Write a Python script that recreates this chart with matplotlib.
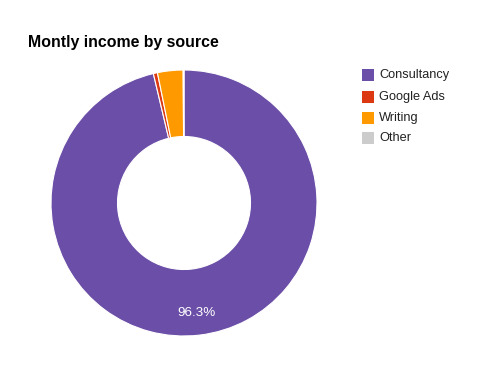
import matplotlib
matplotlib.use("Agg")
import matplotlib.pyplot as plt
from matplotlib.patches import Rectangle

# ── data ──────────────────────────────────────────────────────────────────────

sources = ["Consultancy", "Google Ads", "Writing", "Other"]
shares  = [96.3, 0.5, 3.1, 0.1]
colors  = ["#6a4ea7", "#dc3912", "#ff9900", "#cccccc"]
title   = "Montly income by source"

plt.rcParams["font.family"] = ["Liberation Sans", "DejaVu Sans"]

W, H = 496, 381
fig = plt.figure(figsize=(W / 100, H / 100), dpi=100)

# ── donut ─────────────────────────────────────────────────────────────────────

cx, cy, r = 184, 203, 133
ax = fig.add_axes([(cx - r) / W, 1 - (cy + r) / H, 2 * r / W, 2 * r / H])

def pct(p):
    return f"{p:.1f}%" if p > 5 else ""

wedges, texts, autotexts = ax.pie(
    shares, colors=colors, startangle=90, counterclock=False,
    autopct=pct, pctdistance=0.83,
    wedgeprops=dict(width=0.5, edgecolor="white", linewidth=0.8),
    textprops=dict(color="white", fontsize=9.7),
)
ax.set_xlim(-1, 1)
ax.set_ylim(-1, 1)
ax.set_aspect("equal")
ax.axis("off")

# ── title ─────────────────────────────────────────────────────────────────────

fig.text(28 / W, 1 - 42 / H, title, fontsize=11.4, fontweight="bold",
         va="center", ha="left")

# ── legend ────────────────────────────────────────────────────────────────────

row_y = [75, 97, 118, 138]
for name, c, y in zip(sources, colors, row_y):
    fig.patches.append(Rectangle((361.5 / W, 1 - (y + 6) / H), 12.5 / W, 12 / H,
                                 transform=fig.transFigure, facecolor=c,
                                 edgecolor="none"))
    fig.text(379 / W, 1 - y / H, name, fontsize=9.2, va="center", ha="left",
             color="#222222")

fig.savefig("out.png", dpi=100)
